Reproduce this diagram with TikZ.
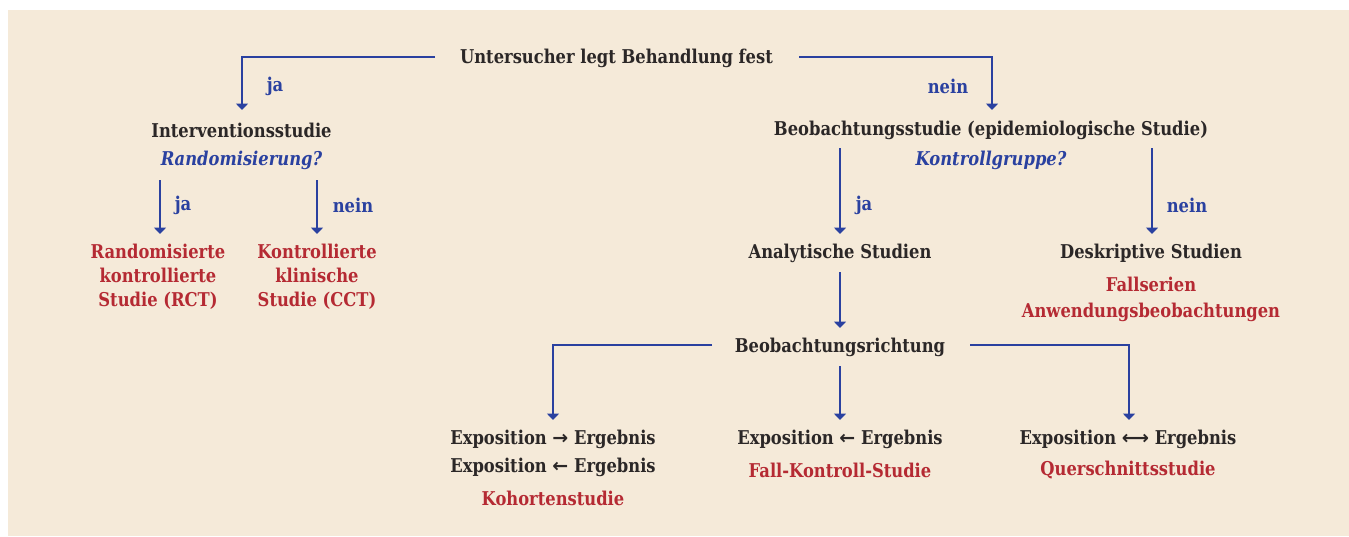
\documentclass[tikz,border=0pt]{standalone}
\usepackage{fontspec}
\setmainfont{DejaVu Serif}[FakeStretch=0.86]
\newfontfamily\sym{DejaVu Sans}
\usetikzlibrary{arrows.meta}
\definecolor{bg}{HTML}{F5EAD9}
\definecolor{ink}{HTML}{2B2727}
\definecolor{bl}{HTML}{2A41A0}
\definecolor{rd}{HTML}{B52A33}
\tikzset{
  txt/.style={font=\fontsize{19}{24}\selectfont\bfseries, text=ink, inner sep=0pt, align=center},
  red/.style={txt, text=rd},
  q/.style={txt, text=bl, font=\fontsize{19}{24}\selectfont\bfseries\itshape},
  yn/.style={txt, text=bl},
  arr/.style={draw=bl, line width=2pt, -{Triangle[width=12pt,length=6.5pt]}},
}
\begin{document}
\begin{tikzpicture}[x=1pt,y=-1pt]
\useasboundingbox (0,0) rectangle (1349,536);
\fill[bg] (8,10) rectangle (1349,536);
% texts
\node[txt] (top) at (616.5,58) {Untersucher legt Behandlung fest};
\node[txt] (int) at (241.5,130) {Interventionsstudie};
\node[q] (rand) at (241.5,160) {Randomisierung?};
\node[txt] (beo) at (991,130) {Beobachtungsstudie (epidemiologische Studie)};
\node[q] (kont) at (991,160) {Kontrollgruppe?};
\node[red] (rct) at (158,277) {Randomisierte\\kontrollierte\\Studie (RCT)};
\node[red] (cct) at (317,277) {Kontrollierte\\klinische\\Studie (CCT)};
\node[txt] (ana) at (840,253) {Analytische Studien};
\node[txt] (desk) at (1151,253) {Deskriptive Studien};
\node[red] (fall) at (1151,284) {Fallserien};
\node[red] (anw) at (1151,312) {Anwendungsbeobachtungen};
\node[txt] (richt) at (840,347) {Beobachtungsrichtung};
\node[txt] (koh1) at (553,439) {Exposition {\sym→} Ergebnis};
\node[txt] (koh2) at (553,467) {Exposition {\sym←} Ergebnis};
\node[red] (koh) at (553,498) {Kohortenstudie};
\node[txt] (fk1) at (840,439) {Exposition {\sym←} Ergebnis};
\node[red] (fk) at (840,470) {Fall-Kontroll-Studie};
\node[txt] (qs1) at (1128,439) {Exposition {\sym⟷} Ergebnis};
\node[red] (qs) at (1128,470) {Querschnittsstudie};
% labels
\node[yn] (l1) at (275,86) {ja};
\node[yn] (l2) at (948,86) {nein};
\node[yn] (l3) at (183,205) {ja};
\node[yn] (l4) at (353,205) {nein};
\node[yn] (l5) at (864,205) {ja};
\node[yn] (l6) at (1187,205) {nein};
% coordinates
\coordinate (t1) at (435,57);
\coordinate (t2) at (799,57);
\coordinate (e1) at (242,110);
\coordinate (e2) at (992,110);
\coordinate (s3) at (160,180);
\coordinate (e3) at (160,234);
\coordinate (s4) at (317,180);
\coordinate (e4) at (317,234);
\coordinate (s5) at (840,148);
\coordinate (e5) at (840,234);
\coordinate (s6) at (1152,148);
\coordinate (e6) at (1152,234);
\coordinate (s7) at (840,272);
\coordinate (e7) at (840,328);
\coordinate (r1) at (712,345);
\coordinate (r2) at (970,345);
\coordinate (s8) at (840,366);
\coordinate (e8) at (553,420);
\coordinate (e9) at (840,420);
\coordinate (e10) at (1129,420);
% connectors
\draw[arr] (t1) -| (e1);
\draw[arr] (t2) -| (e2);
\draw[arr] (s3) -- (e3);
\draw[arr] (s4) -- (e4);
\draw[arr] (s5) -- (e5);
\draw[arr] (s6) -- (e6);
\draw[arr] (s7) -- (e7);
\draw[arr] (r1) -| (e8);
\draw[arr] (s8) -- (e9);
\draw[arr] (r2) -| (e10);
\end{tikzpicture}
\end{document}
